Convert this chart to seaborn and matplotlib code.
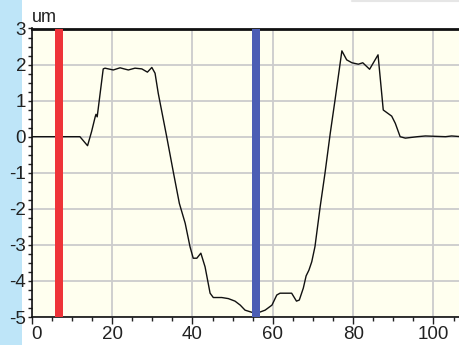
import matplotlib
matplotlib.use("Agg")
import matplotlib.pyplot as plt
import seaborn as sns
import pandas as pd
from matplotlib.patches import Rectangle
from matplotlib.ticker import MultipleLocator, FixedLocator
from matplotlib.lines import Line2D

# ---- data ----
pos_um = [0, 12.0, 13.9, 14.9, 15.8, 16.0, 16.3, 17.8, 18.25, 20.3, 22.0, 23.0, 24.05,
          25.7, 27.4, 28.8, 29.9, 30.7, 31.5, 33.6, 35.3, 36.75, 38.2, 39.4, 40.2,
          41.1, 42.1, 43.15, 44.4, 45.2, 47.3, 48.95, 50.6, 51.9, 53.1, 54.8, 56.4,
          58.1, 59.8, 61.0, 61.8, 64.7, 65.9, 66.6, 67.6, 68.3, 69.0, 69.7, 70.5,
          71.8, 73.0, 74.3, 75.5, 77.2, 78.4, 79.7, 81.3, 82.4, 84.1, 86.2, 87.5,
          89.6, 90.5, 91.7, 93.0, 96.0, 98.0, 103.0, 104.5, 107.0]
height_um = [0, 0, -0.25, 0.14, 0.55, 0.62, 0.55, 1.88, 1.90, 1.85, 1.91, 1.88, 1.85,
             1.90, 1.88, 1.79, 1.92, 1.76, 1.20, 0.0, -1.01, -1.85, -2.40, -3.05, -3.37,
             -3.37, -3.23, -3.61, -4.34, -4.46, -4.46, -4.49, -4.56, -4.67, -4.81, -4.87, -4.88,
             -4.81, -4.67, -4.39, -4.34, -4.34, -4.56, -4.53, -4.20, -3.86, -3.70, -3.47, -3.05,
             -1.94, -1.01, 0.09, 1.02, 2.38, 2.13, 2.05, 2.01, 2.05, 1.87, 2.27, 0.74,
             0.57, 0.37, 0.0, -0.04, 0.0, 0.02, 0.0, 0.02, 0.0]
cursor_pos = [6.85, 55.8]
cursor_colors = ["#EE3338", "#4B5DB4"]
cursor_half_width = 1.05
x_ticks = [0, 20, 40, 60, 80, 100]
y_ticks = [-5, -4, -3, -2, -1, 0, 1, 2, 3]
unit_label = "um"

df = pd.DataFrame({"x": pos_um, "y": height_um})

sns.set_theme(style="ticks")
plt.rcParams["font.family"] = ["Liberation Sans", "DejaVu Sans"]

fig = plt.figure(figsize=(4.6, 3.45), dpi=100)
fig.patch.set_facecolor("white")
fig.patches.append(Rectangle((0, 0), 22 / 460, 1, transform=fig.transFigure,
                             facecolor="#BEE5F8", edgecolor="none", zorder=-5))
fig.lines.append(Line2D([352 / 460, 1], [0.996, 0.996], transform=fig.transFigure,
                        color="#E6E6E6", lw=1.5, zorder=-5))

ax = fig.add_axes([31.7 / 460, 1 - 317 / 345, 1 - 31.7 / 460, (317 - 28.5) / 345])
ax.set_zorder(1)
ax.set_facecolor("#FFFFEF")

sns.lineplot(data=df, x="x", y="y", ax=ax, color="#111111", lw=1.0,
             estimator=None, sort=False, zorder=3)

for cx, cc in zip(cursor_pos, cursor_colors):
    ax.axvspan(cx - cursor_half_width, cx + cursor_half_width, color=cc, lw=0, zorder=4)

ax.set_xlim(0, 106.6)
ax.set_ylim(-5, 3)
ax.xaxis.set_major_locator(FixedLocator(x_ticks))
ax.yaxis.set_major_locator(FixedLocator(y_ticks))
ax.xaxis.set_minor_locator(MultipleLocator(5))
ax.yaxis.set_minor_locator(MultipleLocator(0.25))
ax.grid(True, which="major", color="#CCCCCC", lw=1.3, zorder=1)
ax.set_axisbelow(True)

ax.set_xticklabels([str(t) for t in x_ticks])
ax.set_yticklabels([str(t) for t in y_ticks])
ax.tick_params(axis="both", which="major", labelsize=13.5, width=1,
               color="#222222", labelcolor="#222222", direction="out")
ax.tick_params(axis="both", which="minor", length=3, width=1, color="#222222")
ax.tick_params(axis="y", which="major", pad=1, length=3)
ax.tick_params(axis="x", which="major", pad=1.5, length=5)
lbls = ax.get_xticklabels()
lbls[0].set_horizontalalignment("left")

ax.set_xlabel("")
ax.set_ylabel("")
for s in ["top", "left", "bottom"]:
    ax.spines[s].set_color("#111111")
ax.spines["top"].set_linewidth(2)
ax.spines["left"].set_linewidth(1.2)
ax.spines["bottom"].set_linewidth(1.2)
ax.spines["right"].set_visible(False)

ax.text(0.0, 1.01, unit_label, transform=ax.transAxes, fontsize=13,
        ha="left", va="bottom", color="#222222")

fig.savefig("out.png", dpi=100)
